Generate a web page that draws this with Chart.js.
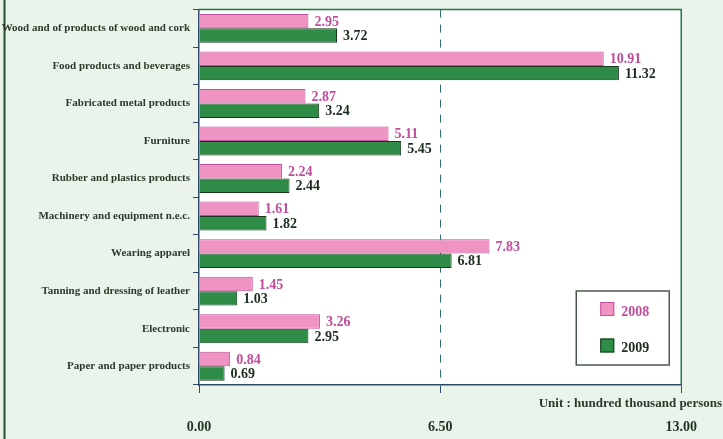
<!DOCTYPE html>
<html lang="en">
<head>
    <meta charset="UTF-8">
    <title>Employment by industry 2008-2009</title>
    <script src="https://cdn.jsdelivr.net/npm/chart.js"></script>
    <style>
        body { margin: 0; background: #EAF4EA; }
        #wrap { width: 723px; height: 439px; position: relative; }
    </style>
</head>
<body>
    <div id="wrap"><canvas id="industryChart"></canvas></div>

    <script>
        // Values (unit: hundred thousand persons)
        const categories = [
            'Wood and of products of wood and cork',
            'Food products and beverages',
            'Fabricated metal products',
            'Furniture',
            'Rubber and plastics products',
            'Machinery and equipment n.e.c.',
            'Wearing apparel',
            'Tanning and dressing of leather',
            'Electronic',
            'Paper and paper products'
        ];
        const values2008 = [2.95, 10.91, 2.87, 5.11, 2.24, 1.61, 7.83, 1.45, 3.26, 0.84];
        const values2009 = [3.72, 11.32, 3.24, 5.45, 2.44, 1.82, 6.81, 1.03, 2.95, 0.69];
        const xTicks = [0, 6.5, 13];
        const unitText = 'Unit : hundred thousand persons';

        const serif = '"Liberation Serif", "Times New Roman", serif';
        const axisBlue = '#2C4A6A';

        const decorPlugin = {
            id: 'decor',
            beforeDraw(chart) {
                const {ctx, chartArea: a} = chart;
                ctx.save();
                ctx.fillStyle = '#EAF4EA';
                ctx.fillRect(0, 0, chart.width, chart.height);
                ctx.fillStyle = '#FFFFFF';
                ctx.fillRect(a.left, a.top, a.right - a.left, a.bottom - a.top);
                ctx.strokeStyle = '#1E7A48';
                ctx.lineWidth = 1.5;
                ctx.beginPath();
                ctx.moveTo(a.left, a.top);
                ctx.lineTo(a.right, a.top);
                ctx.lineTo(a.right, a.bottom);
                ctx.stroke();
                // left frame line
                ctx.strokeStyle = '#244A30';
                ctx.lineWidth = 2;
                ctx.beginPath();
                ctx.moveTo(4.5, 0);
                ctx.lineTo(4.5, chart.height);
                ctx.stroke();
                ctx.restore();
            },
            afterDatasetsDraw(chart) {
                const {ctx} = chart;
                ctx.save();
                ctx.font = 'bold 14px ' + serif;
                ctx.textBaseline = 'middle';
                ctx.textAlign = 'left';
                chart.data.datasets.forEach((ds, i) => {
                    const meta = chart.getDatasetMeta(i);
                    ctx.fillStyle = ds.labelColor;
                    meta.data.forEach((bar, j) => {
                        ctx.fillText(ds.data[j].toFixed(2), bar.x + 6, bar.y + 1);
                    });
                });
                ctx.restore();
            },
            afterDraw(chart) {
                const {ctx, chartArea: a} = chart;
                ctx.save();
                // unit note
                ctx.font = 'bold 13px ' + serif;
                ctx.fillStyle = '#2B3B2B';
                ctx.textAlign = 'right';
                ctx.textBaseline = 'middle';
                ctx.fillText(unitText, chart.width - 1, a.bottom + 19);

                // legend box
                const bx = a.right - 105, by = a.bottom - 94;
                ctx.fillStyle = '#FFFFFF';
                ctx.fillRect(bx, by, 93, 74);
                ctx.strokeStyle = '#4A5A4A';
                ctx.lineWidth = 1.5;
                ctx.strokeRect(bx, by, 93, 74);
                ctx.font = 'bold 14px ' + serif;
                ctx.textAlign = 'left';
                chart.data.datasets.forEach((ds, i) => {
                    const sy = by + 11 + i * 36.5;
                    ctx.fillStyle = ds.backgroundColor;
                    ctx.fillRect(bx + 24, sy, 14, 14);
                    ctx.strokeStyle = ds.borderColor;
                    ctx.lineWidth = 1;
                    ctx.strokeRect(bx + 24.5, sy + 0.5, 13, 13);
                    ctx.fillStyle = ds.labelColor;
                    ctx.fillText(ds.label, bx + 45, sy + 10);
                });
                ctx.restore();
            }
        };

        const ctx = document.getElementById('industryChart').getContext('2d');
        new Chart(ctx, {
            type: 'bar',
            data: {
                labels: categories,
                datasets: [{
                    label: '2008',
                    data: values2008,
                    backgroundColor: '#EF94C2',
                    borderColor: '#C0509A',
                    borderWidth: 1,
                    labelColor: '#C24C9C'
                }, {
                    label: '2009',
                    data: values2009,
                    backgroundColor: '#2F8C46',
                    borderColor: '#17361C',
                    borderWidth: 1,
                    labelColor: '#1C2E1E'
                }]
            },
            plugins: [decorPlugin],
            options: {
                indexAxis: 'y',
                responsive: true,
                maintainAspectRatio: false,
                animation: false,
                categoryPercentage: 0.77,
                barPercentage: 1.0,
                layout: { padding: { top: 7, right: 40, left: 0, bottom: 0 } },
                plugins: {
                    legend: { display: false },
                    tooltip: { enabled: false }
                },
                scales: {
                    x: {
                        min: 0,
                        max: 13,
                        afterBuildTicks(scale) {
                            scale.ticks = xTicks.map(v => ({value: v}));
                        },
                        afterFit(scale) { scale.height = 54; },
                        ticks: {
                            padding: 26,
                            color: '#1F3322',
                            font: { family: serif, size: 14, weight: 'bold' },
                            callback: v => Number(v).toFixed(2)
                        },
                        grid: {
                            color: c => (c.tick && c.tick.value === 6.5) ? '#2A7070' : 'transparent',
                            lineWidth: 1,
                            tickColor: axisBlue,
                            tickLength: 8
                        },
                        border: { color: axisBlue, width: 1.5, dash: [8, 7] }
                    },
                    y: {
                        afterFit(scale) { scale.width = 199; },
                        ticks: {
                            padding: 3,
                            color: '#2B3B2B',
                            font: { family: serif, size: 11, weight: 'bold' }
                        },
                        grid: {
                            drawOnChartArea: false,
                            tickColor: axisBlue,
                            tickLength: 6
                        },
                        border: { color: axisBlue, width: 1.5 }
                    }
                }
            }
        });
    </script>
</body>
</html>
